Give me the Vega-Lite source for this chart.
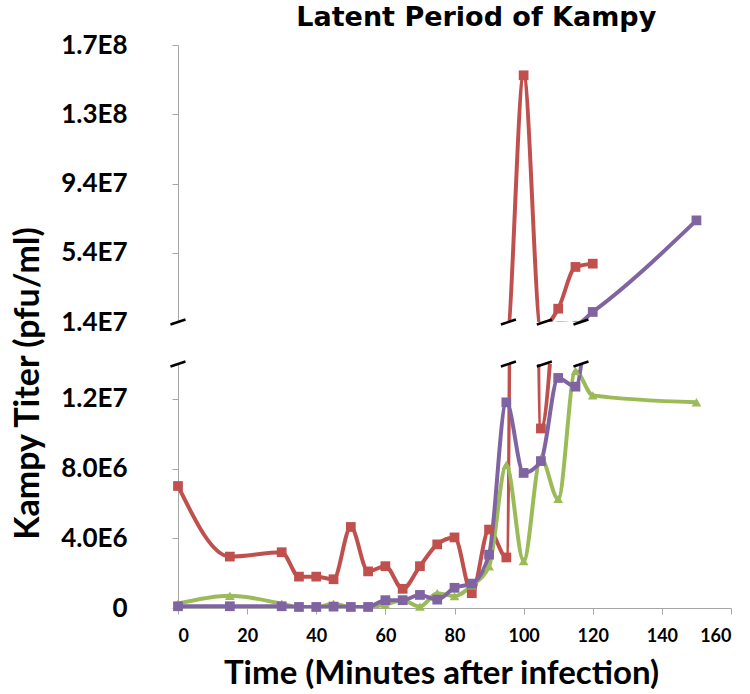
{
  "$schema": "https://vega.github.io/schema/vega-lite/v6.json",
  "background": "white",
  "padding": {"left": 10, "top": 4, "right": 5, "bottom": 5},
  "bounds": "flush",
  "title": {"text": "Latent Period of Kampy", "font": "DejaVu Sans", "fontSize": 27, "fontWeight": "bold", "color": "black", "anchor": "middle", "dx": 105, "offset": 0},
  "datasets": {
    "titer": [
      {"t": 0, "s": "S1", "v": 7000000}, {"t": 15, "s": "S1", "v": 2950000}, {"t": 30, "s": "S1", "v": 3200000},
      {"t": 35, "s": "S1", "v": 1800000}, {"t": 40, "s": "S1", "v": 1800000}, {"t": 45, "s": "S1", "v": 1650000},
      {"t": 50, "s": "S1", "v": 4650000}, {"t": 55, "s": "S1", "v": 2100000}, {"t": 60, "s": "S1", "v": 2400000},
      {"t": 65, "s": "S1", "v": 1100000}, {"t": 70, "s": "S1", "v": 2400000}, {"t": 75, "s": "S1", "v": 3650000},
      {"t": 80, "s": "S1", "v": 4050000}, {"t": 85, "s": "S1", "v": 850000}, {"t": 90, "s": "S1", "v": 4500000},
      {"t": 95, "s": "S1", "v": 2900000}, {"t": 100, "s": "S1", "v": 156500000}, {"t": 105, "s": "S1", "v": 10300000},
      {"t": 110, "s": "S1", "v": 21700000}, {"t": 115, "s": "S1", "v": 45800000}, {"t": 120, "s": "S1", "v": 47700000},
      {"t": 0, "s": "S2", "v": 250000}, {"t": 15, "s": "S2", "v": 700000}, {"t": 30, "s": "S2", "v": 250000},
      {"t": 35, "s": "S2", "v": 50000}, {"t": 40, "s": "S2", "v": 50000}, {"t": 45, "s": "S2", "v": 250000},
      {"t": 50, "s": "S2", "v": 50000}, {"t": 55, "s": "S2", "v": 50000}, {"t": 60, "s": "S2", "v": 200000},
      {"t": 65, "s": "S2", "v": 450000}, {"t": 70, "s": "S2", "v": 80000}, {"t": 75, "s": "S2", "v": 850000},
      {"t": 80, "s": "S2", "v": 680000}, {"t": 85, "s": "S2", "v": 1300000}, {"t": 90, "s": "S2", "v": 2400000},
      {"t": 95, "s": "S2", "v": 8200000}, {"t": 100, "s": "S2", "v": 2700000}, {"t": 105, "s": "S2", "v": 8600000},
      {"t": 110, "s": "S2", "v": 6260000}, {"t": 115, "s": "S2", "v": 13600000}, {"t": 120, "s": "S2", "v": 12200000},
      {"t": 150, "s": "S2", "v": 11800000},
      {"t": 0, "s": "S3", "v": 100000}, {"t": 15, "s": "S3", "v": 100000}, {"t": 30, "s": "S3", "v": 100000},
      {"t": 35, "s": "S3", "v": 60000}, {"t": 40, "s": "S3", "v": 60000}, {"t": 45, "s": "S3", "v": 80000},
      {"t": 50, "s": "S3", "v": 60000}, {"t": 55, "s": "S3", "v": 60000}, {"t": 60, "s": "S3", "v": 450000},
      {"t": 65, "s": "S3", "v": 450000}, {"t": 70, "s": "S3", "v": 750000}, {"t": 75, "s": "S3", "v": 480000},
      {"t": 80, "s": "S3", "v": 1160000}, {"t": 85, "s": "S3", "v": 1400000}, {"t": 90, "s": "S3", "v": 3060000},
      {"t": 95, "s": "S3", "v": 11800000}, {"t": 100, "s": "S3", "v": 7750000}, {"t": 105, "s": "S3", "v": 8430000},
      {"t": 110, "s": "S3", "v": 13200000}, {"t": 115, "s": "S3", "v": 12700000}, {"t": 120, "s": "S3", "v": 19800000},
      {"t": 150, "s": "S3", "v": 72700000}
    ],
    "breaks": [
      {"t": 0, "v": 14000000}, {"t": 95.6, "v": 14000000}, {"t": 106, "v": 14000000}, {"t": 116.6, "v": 14000000}
    ]
  },
  "config": {
    "view": {"stroke": null},
    "concat": {"spacing": 42},
    "axis": {
      "grid": false,
      "domainColor": "#a6a6a6",
      "tickColor": "#a6a6a6",
      "tickSize": 6,
      "labelFont": "Lato",
      "labelFontWeight": "bold",
      "labelColor": "black",
      "titleFont": "Lato",
      "titleFontWeight": "bold",
      "titleColor": "black"
    }
  },
  "resolve": {"scale": {"y": "independent"}},
  "vconcat": [
    {
      "width": 553,
      "height": 277,
      "encoding": {
        "x": {"field": "t", "type": "quantitative", "scale": {"domain": [0, 160]}, "axis": null},
        "y": {"field": "v", "type": "quantitative", "scale": {"domain": [14000000, 174000000]},
              "axis": {"values": [14000000, 54000000, 94000000, 134000000, 174000000], "labelExpr": "replace(upper(format(datum.value, '.1e')), '+', '')", "title": null, "labelFontSize": 26, "labelPadding": 45}}
      },
      "layer": [
        {
          "data": {"name": "titer"},
          "mark": {"type": "line", "interpolate": "monotone", "strokeWidth": 4, "clip": true},
          "encoding": {
            "color": {"field": "s", "type": "nominal", "scale": {"domain": ["S1", "S2", "S3"], "range": ["#C0504D", "#9BBB59", "#8064A2"]}, "legend": null}
          }
        },
        {
          "data": {"name": "titer"},
          "transform": [{"filter": "datum.v >= 14000000"}],
          "mark": {"type": "point", "filled": true, "size": 95, "opacity": 1},
          "encoding": {
            "color": {"field": "s", "type": "nominal", "legend": null},
            "shape": {"field": "s", "type": "nominal", "scale": {"domain": ["S1", "S2", "S3"], "range": ["square", "triangle-up", "square"]}, "legend": null}
          }
        },
        {
          "data": {"name": "breaks"},
          "mark": {"type": "point", "shape": "M-1,0.33L1,-0.33", "size": 225, "filled": false, "stroke": "black", "strokeWidth": 2.5, "opacity": 1}
        }
      ]
    },
    {
      "width": 553,
      "height": 244,
      "encoding": {
        "x": {"field": "t", "type": "quantitative", "scale": {"domain": [0, 160]},
              "axis": {"values": [0, 20, 40, 60, 80, 100, 120, 140, 160], "title": "Time (Minutes after infection)", "titleX": 263,
                       "labelFontSize": 18, "labelPadding": 13, "titleFontSize": 33, "titlePadding": 12}},
        "y": {"field": "v", "type": "quantitative", "scale": {"domain": [0, 14000000]},
              "axis": {"values": [0, 4000000, 8000000, 12000000], "labelExpr": "datum.value == 0 ? '0' : replace(upper(format(datum.value, '.1e')), '+', '')",
                       "labelFontSize": 26, "labelPadding": 45,
                       "title": "Kampy Titer (pfu/ml)", "titleFontSize": 34, "titleX": -150, "titleY": 19, "titleAngle": -90, "titleBaseline": "middle", "titleAlign": "center"}}
      },
      "layer": [
        {
          "data": {"name": "titer"},
          "mark": {"type": "line", "interpolate": "monotone", "strokeWidth": 4, "clip": true},
          "encoding": {
            "color": {"field": "s", "type": "nominal", "scale": {"domain": ["S1", "S2", "S3"], "range": ["#C0504D", "#9BBB59", "#8064A2"]}, "legend": null}
          }
        },
        {
          "data": {"name": "titer"},
          "transform": [{"filter": "datum.v <= 14000000"}],
          "mark": {"type": "point", "filled": true, "size": 95, "opacity": 1},
          "encoding": {
            "color": {"field": "s", "type": "nominal", "legend": null},
            "shape": {"field": "s", "type": "nominal", "scale": {"domain": ["S1", "S2", "S3"], "range": ["square", "triangle-up", "square"]}, "legend": null}
          }
        },
        {
          "data": {"name": "breaks"},
          "mark": {"type": "point", "shape": "M-1,0.33L1,-0.33", "size": 225, "filled": false, "stroke": "black", "strokeWidth": 2.5, "opacity": 1}
        }
      ]
    }
  ]
}
